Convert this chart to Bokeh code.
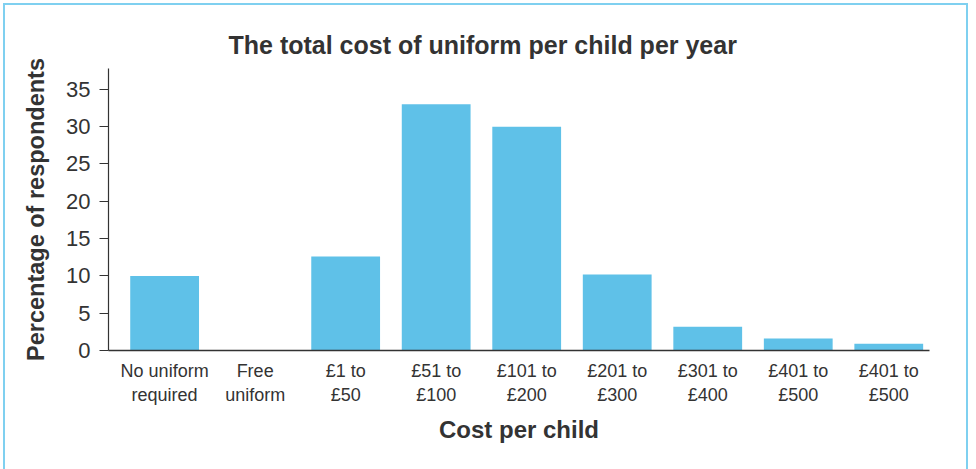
from bokeh.plotting import figure
from bokeh.models import Range1d, FixedTicker
from bokeh.embed import file_html
from bokeh.resources import INLINE

categories = ["No uniform\nrequired", "Free\nuniform", "£1 to\n£50", "£51 to\n£100",
              "£101 to\n£200", "£201 to\n£300", "£301 to\n£400", "£401 to\n£500", "£401 to\n£500"]
percentages = [10, 0, 12.6, 33, 30, 10.2, 3.2, 1.6, 0.9]
y_ticks = [0, 5, 10, 15, 20, 25, 30, 35]

FONT = "Liberation Sans"
TXT = "#333333"
idx = list(range(len(categories)))

# canvas origin sits at (5, 5) of the window because of the border/margin
p = figure(width=965, height=470, output_backend="svg", toolbar_location=None,
           x_range=Range1d(-0.62, len(categories) - 1 + 0.45), y_range=Range1d(0, 37.8),
           min_border_left=103, min_border_right=41, min_border_top=63, min_border_bottom=125)
p.styles = {"border": "2px solid #7fd0f0", "margin-left": "3px", "margin-top": "3px"}

p.vbar(x=idx, top=percentages, width=0.76, color="#5fc1e8", line_color=None)

p.title.text = "The total cost of uniform per child per year"
p.title.text_font = FONT
p.title.text_font_size = "25px"
p.title.text_font_style = "bold"
p.title.text_color = TXT
p.title.align = "left"
p.title.offset = 120
p.title.standoff = 19

p.xgrid.visible = False
p.ygrid.visible = False
p.outline_line_color = None

xa = p.xaxis[0]
xa.ticker = FixedTicker(ticks=idx)
xa.major_label_overrides = {i: c for i, c in zip(idx, categories)}
xa.major_tick_line_color = None
xa.minor_tick_line_color = None
xa.axis_line_color = "#333333"
xa.axis_line_width = 1.5
xa.major_label_text_font = FONT
xa.major_label_text_font_size = "18px"
xa.major_label_text_color = TXT
xa.major_label_standoff = 4
xa.axis_label = "Cost per child"
xa.axis_label_text_font = FONT
xa.axis_label_text_font_size = "24px"
xa.axis_label_text_font_style = "bold"
xa.axis_label_text_color = TXT
xa.axis_label_standoff = 8

ya = p.yaxis[0]
ya.ticker = FixedTicker(ticks=y_ticks)
ya.minor_tick_line_color = None
ya.major_tick_out = 9
ya.major_tick_in = 0
ya.major_tick_line_color = "#333333"
ya.axis_line_color = "#333333"
ya.axis_line_width = 1.2
ya.major_label_text_font = FONT
ya.major_label_text_font_size = "22px"
ya.major_label_text_color = TXT
ya.major_label_standoff = 9
ya.axis_label = "Percentage of respondents"
ya.axis_label_text_font = FONT
ya.axis_label_text_font_size = "23.5px"
ya.axis_label_text_font_style = "bold"
ya.axis_label_text_color = TXT
ya.axis_label_standoff = 14

open("out.html", "w").write(file_html(p, INLINE))
